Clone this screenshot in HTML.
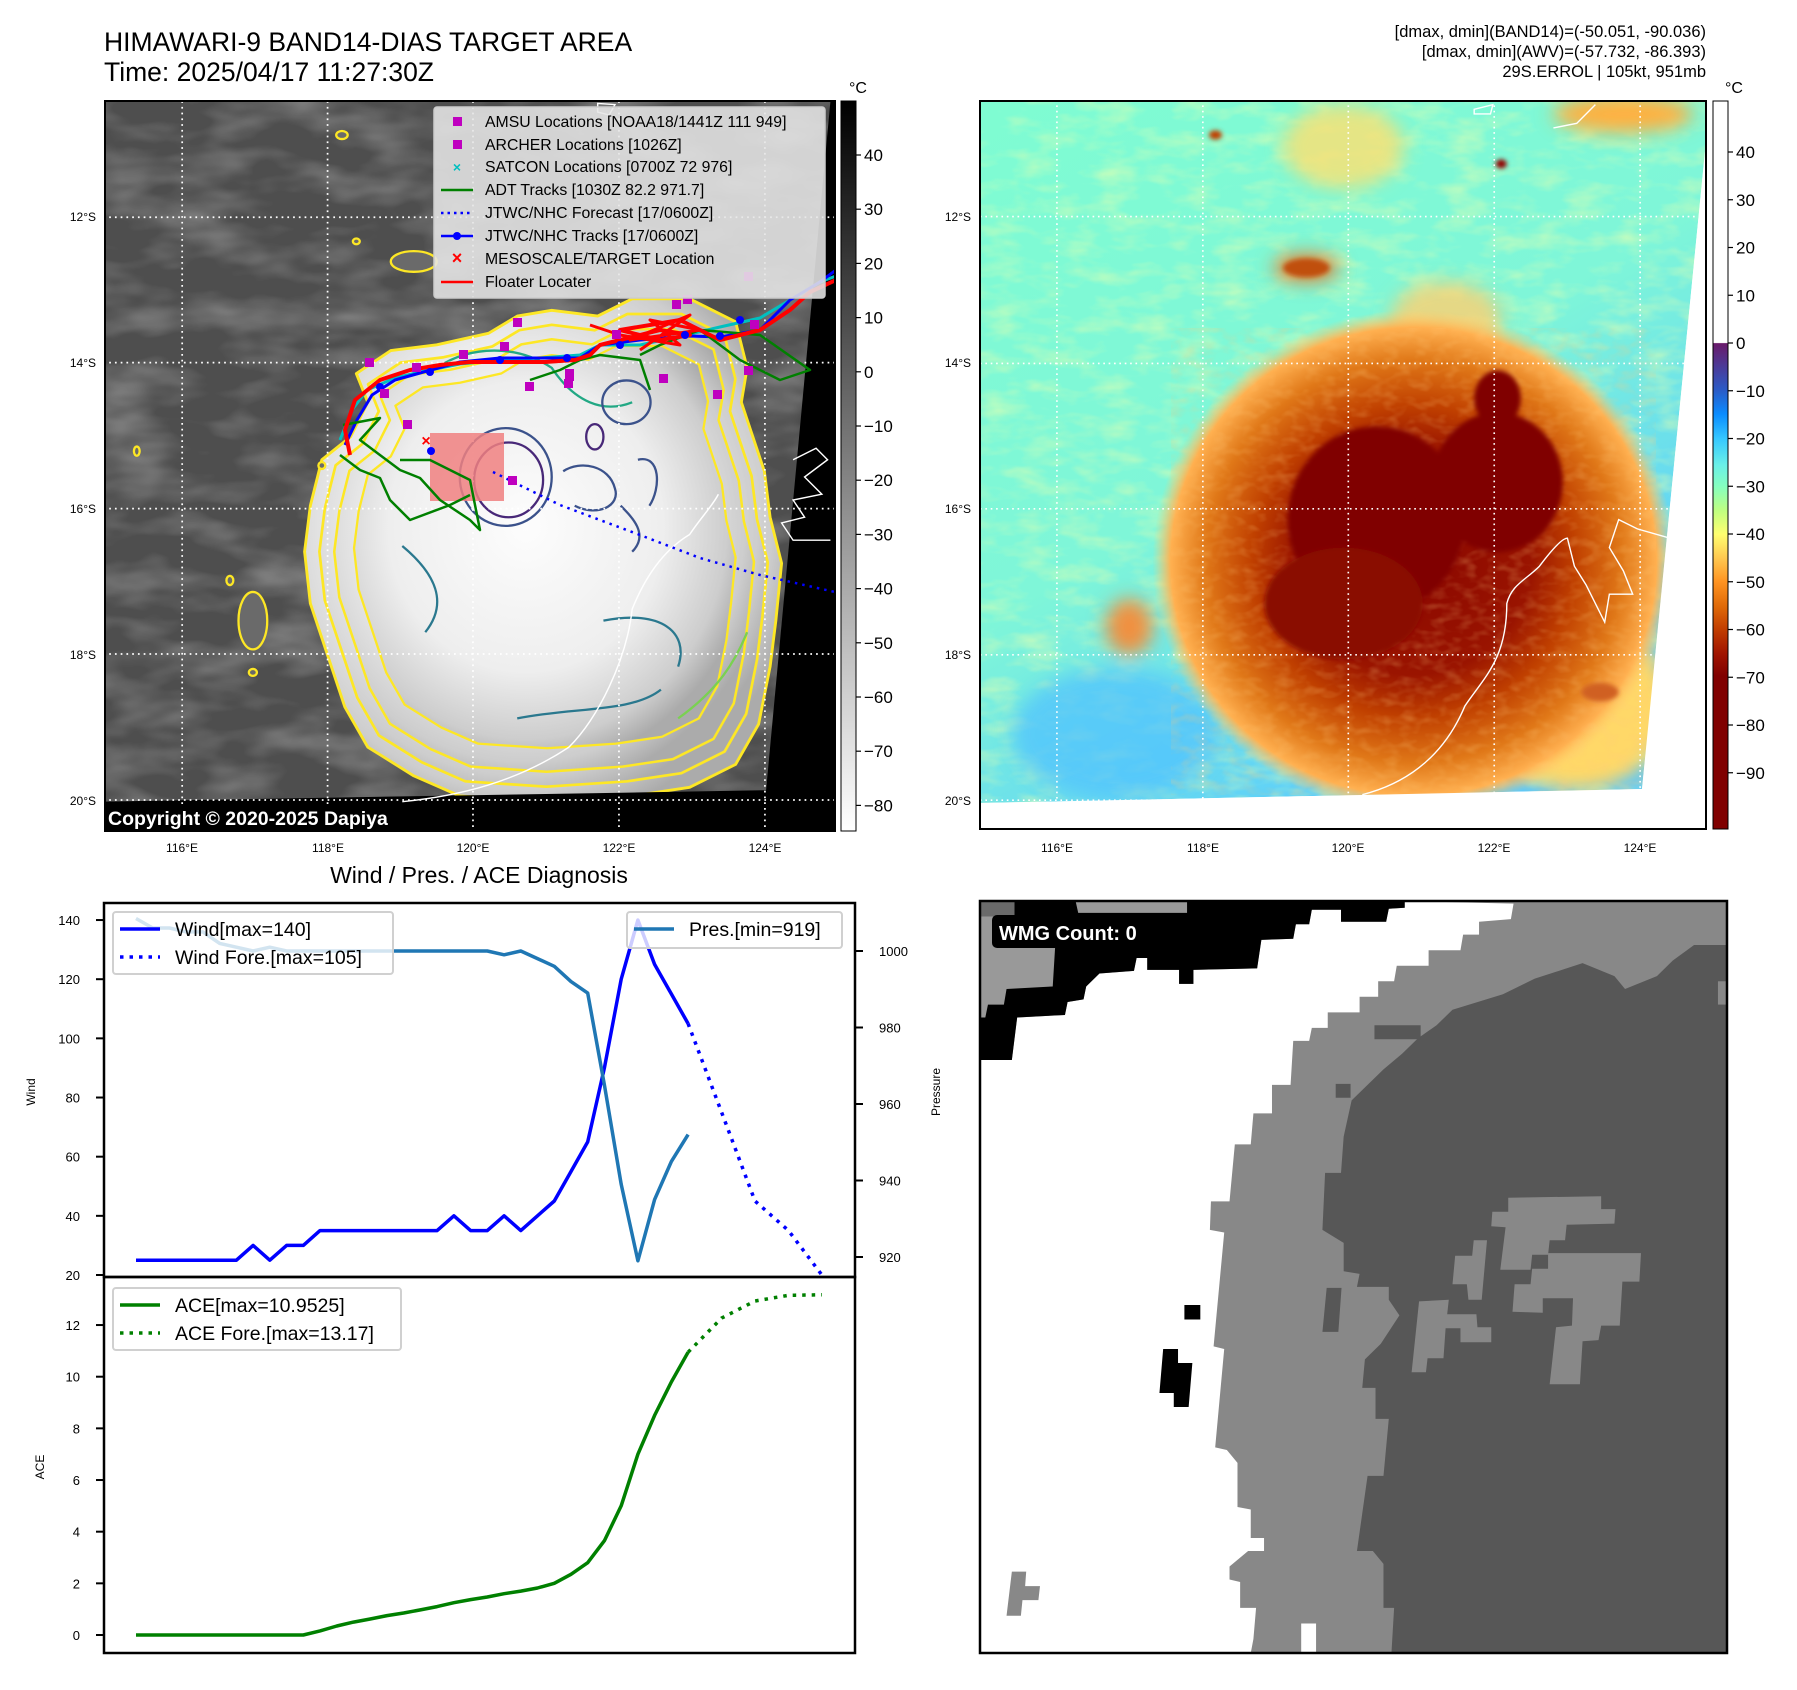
<!DOCTYPE html>
<html><head><meta charset="utf-8"><title>HIMAWARI-9 BAND14 target area</title>
<style>
html,body{margin:0;padding:0;background:#fff;}
body{width:1797px;height:1690px;position:relative;overflow:hidden;font-family:"Liberation Sans","DejaVu Sans",sans-serif;}
svg{position:absolute;left:0;top:0;}
</style></head><body>
<svg id="root" width="1797" height="1690" viewBox="0 0 1797 1690" xmlns="http://www.w3.org/2000/svg" font-family="Liberation Sans, DejaVu Sans, sans-serif">
<defs>
  <filter id="texG" x="0" y="0" width="100%" height="100%">
    <feTurbulence type="fractalNoise" baseFrequency="0.012 0.03" numOctaves="3" seed="4"/>
    <feColorMatrix type="matrix" values="0 0 0 0 1  0 0 0 0 1  0 0 0 0 1  0 0 0 1.1 -0.45"/>
  </filter>
  <filter id="texC" x="0" y="0" width="100%" height="100%">
    <feTurbulence type="fractalNoise" baseFrequency="0.012 0.028" numOctaves="3" seed="9"/>
    <feColorMatrix type="matrix" values="0 0 0 0 0.75  0 0 0 0 1  0 0 0 0 0.45  0 0 0 1.4 -0.6"/>
  </filter>
  <filter id="texO" x="0" y="0" width="100%" height="100%">
    <feTurbulence type="fractalNoise" baseFrequency="0.03 0.05" numOctaves="2" seed="3"/>
    <feColorMatrix type="matrix" values="0 0 0 0 1  0 0 0 0 0.6  0 0 0 0 0.2  0 0 0 1.6 -0.7"/>
  </filter>
  <filter id="blur10"><feGaussianBlur stdDeviation="10"/></filter>
  <filter id="blur5"><feGaussianBlur stdDeviation="5"/></filter>
  <filter id="blur20"><feGaussianBlur stdDeviation="20"/></filter>
  <radialGradient id="stormGray" cx="0.45" cy="0.45" r="0.6">
    <stop offset="0" stop-color="#fdfdfd"/><stop offset="0.6" stop-color="#eeeeee"/><stop offset="0.88" stop-color="#cdcdcd"/><stop offset="1" stop-color="#ababab"/>
  </radialGradient>
  <radialGradient id="stormColor" cx="0.5" cy="0.5" r="0.5">
    <stop offset="0" stop-color="#8a0600"/><stop offset="0.45" stop-color="#9a1400"/><stop offset="0.62" stop-color="#c04000"/>
    <stop offset="0.8" stop-color="#e07818"/><stop offset="0.93" stop-color="#ffb050"/><stop offset="1" stop-color="#ffd070" stop-opacity="0"/>
  </radialGradient>
  <linearGradient id="cbGray" x1="0" y1="0" x2="0" y2="1">
    <stop offset="0" stop-color="#000"/><stop offset="1" stop-color="#fff"/>
  </linearGradient>
  <linearGradient id="cbColor" x1="0" y1="0" x2="0" y2="1">
    <stop offset="0" stop-color="#fff"/><stop offset="0.332" stop-color="#fff"/>
    <stop offset="0.333" stop-color="#6a1a6a"/><stop offset="0.398" stop-color="#2a5cc8"/>
    <stop offset="0.43" stop-color="#0a8cff"/><stop offset="0.464" stop-color="#36c8ff"/>
    <stop offset="0.5" stop-color="#6af0e8"/><stop offset="0.53" stop-color="#86ffbe"/>
    <stop offset="0.563" stop-color="#c0ff80"/><stop offset="0.595" stop-color="#ffff70"/>
    <stop offset="0.628" stop-color="#ffc850"/><stop offset="0.66" stop-color="#ff9422"/>
    <stop offset="0.694" stop-color="#e06a08"/><stop offset="0.727" stop-color="#c03c00"/>
    <stop offset="0.76" stop-color="#a01400"/><stop offset="0.79" stop-color="#800000"/>
    <stop offset="1" stop-color="#800000"/>
  </linearGradient>
  <linearGradient id="bgRight" x1="0" y1="0" x2="0.6" y2="1">
    <stop offset="0" stop-color="#7ffcd2"/><stop offset="0.55" stop-color="#7ff6d8"/><stop offset="1" stop-color="#58c8ff"/>
  </linearGradient>
  <clipPath id="clipL"><rect x="105" y="101" width="730" height="730"/></clipPath>
  <clipPath id="clipR"><rect x="980" y="101" width="726" height="728"/></clipPath>
  <clipPath id="clipBR"><rect x="980" y="901" width="747" height="752"/></clipPath>
</defs>

<!-- Titles -->
<text x="104" y="51" font-size="26.5" fill="#000">HIMAWARI-9 BAND14-DIAS TARGET AREA</text>
<text x="104" y="81" font-size="26.5" fill="#000">Time: 2025/04/17 11:27:30Z</text>
<g font-size="16.5" text-anchor="end" fill="#000">
  <text x="1706" y="37">[dmax, dmin](BAND14)=(-50.051, -90.036)</text>
  <text x="1706" y="57">[dmax, dmin](AWV)=(-57.732, -86.393)</text>
  <text x="1706" y="77">29S.ERROL | 105kt, 951mb</text>
</g>

<!-- ============ LEFT MAP ============ -->
<g clip-path="url(#clipL)">
  <rect x="105" y="101" width="730" height="730" fill="#4e4e4e"/>
  <rect x="105" y="101" width="730" height="730" filter="url(#texG)" opacity="0.55"/>
  <g transform="scale(0.5747)">
    <path id="outerC" d="M540,880 L560,800 610,760 640,700 620,650 680,610 760,600 850,580 900,550 960,540 1040,550 1100,520 1200,520 1280,560 1300,640 1290,700 1310,760 1330,820 1340,900 1360,980 1350,1080 1340,1160 1320,1260 1280,1330 1200,1370 1100,1385 950,1395 800,1385 720,1350 640,1300 600,1230 570,1140 540,1050 530,960 Z" fill="url(#stormGray)" stroke="#fde725" stroke-width="5" stroke-linejoin="round"/>
    <g fill="none" stroke-linejoin="round" stroke-width="4">
      <use href="#outerC" transform="translate(960 960) scale(0.94) translate(-960 -960)" fill="none" stroke="#7ad151"/>
      <use href="#outerC" transform="translate(960 960) scale(0.88) translate(-960 -960)" fill="none" stroke="#22a884"/>
      <use href="#outerC" transform="translate(960 930) scale(0.80) translate(-960 -930)" fill="none" stroke="#2a788e"/>
      <path d="M760,640 C820,600 900,600 960,640 C1000,700 1050,720 1100,700" stroke="#22a884"/>
      <ellipse cx="880" cy="830" rx="80" ry="85" stroke="#3b528b"/>
      <ellipse cx="885" cy="835" rx="60" ry="65" stroke="#482878"/>
      <ellipse cx="1090" cy="700" rx="42" ry="38" stroke="#3b528b"/>
      <ellipse cx="1035" cy="760" rx="15" ry="22" stroke="#482878"/>
      <path d="M980,820 C1010,800 1060,810 1070,850 C1080,880 1040,900 1000,880" stroke="#3b528b"/>
      <path d="M1110,800 C1150,790 1150,850 1130,880 M1080,880 C1100,900 1130,930 1100,960" stroke="#3b528b"/>
      <path d="M700,950 C760,1000 780,1050 740,1100 M1050,1080 C1150,1060 1200,1100 1180,1160 M900,1250 C1000,1230 1100,1240 1150,1200" stroke="#2a788e"/>
      <path d="M1180,1250 C1250,1200 1280,1150 1300,1100" stroke="#7ad151"/>
    </g>
    <g fill="#6a6a6a" stroke="#fde725" stroke-width="4">
      <ellipse cx="720" cy="455" rx="40" ry="18"/>
      <ellipse cx="440" cy="1080" rx="25" ry="50"/>
      <ellipse cx="595" cy="235" rx="10" ry="7"/>
      <ellipse cx="620" cy="420" rx="6" ry="5"/>
      <ellipse cx="238" cy="785" rx="5" ry="8"/>
      <ellipse cx="560" cy="810" rx="6" ry="6"/>
      <ellipse cx="400" cy="1010" rx="6" ry="8"/>
      <ellipse cx="440" cy="1170" rx="7" ry="6"/>
    </g>
    <path d="M1445,176 L1460,176 1460,1450 180,1450 180,1395 340,1392 1333,1375 Z" fill="#000"/>
    <g fill="none" stroke="#fff" stroke-width="2.5">
      <path d="M700,1395 C800,1385 900,1360 990,1300 C1040,1250 1090,1150 1100,1060 C1120,1010 1150,960 1200,930 C1220,900 1240,880 1250,860"/>
      <path d="M1380,800 L1420,780 1440,800 1400,830 1430,860 1380,870 1400,900 1360,910 1380,940 1445,940"/>
      <path d="M1040,180 L1070,182 1060,200 1040,195 Z"/>
    </g>
    <g stroke="#fff" stroke-width="3" stroke-dasharray="3,7" fill="none">
      <path d="M317,176V1445 M570,176V1445 M823,176V1445 M1077,176V1445 M1331,176V1445"/>
      <path d="M180,378H1452 M180,631H1452 M180,885H1452 M180,1138H1452 M180,1392H1452"/>
    </g>
  </g>
  <rect x="430" y="433" width="74" height="68" fill="#f08080" opacity="0.85"/>
  <polyline points="493,472 560,505 640,535 700,558 760,575 835,592" fill="none" stroke="#0000ff" stroke-width="2.5" stroke-dasharray="2.5,5"/>
  <g fill="none" stroke-linejoin="round">
    <polyline points="340,440 352,410 367,390 395,378 420,372 460,364 500,360 540,358 580,355 600,345 640,345 690,334 720,327 760,318 790,300 820,282 836,276" stroke="#00c0c0" stroke-width="3"/>
    <polyline points="345,445 357,420 372,395 395,380 420,373 460,362 500,358 540,358 580,358 600,345 640,340 690,336 720,337 760,330 790,300 820,282 836,270" stroke="#0000ff" stroke-width="3"/>
    <g stroke="#008000" stroke-width="2.5">
      <polyline points="343,425 380,418 360,440 400,470 420,478 440,500 470,520 480,530 470,480 430,460 400,460"/>
      <polyline points="340,455 360,470 380,478 390,500 410,520 450,505 470,495"/>
      <polyline points="530,380 560,370 580,360 600,355 640,360 650,390"/>
      <polyline points="640,355 660,345 700,330 740,360 780,380 810,370 760,335 700,330"/>
    </g>
    <polyline points="350,455 345,430 355,400 380,380 410,370 440,365 470,362 510,362 545,362 575,360 590,355 600,345 620,340 660,330 690,335 660,340 620,330 680,320 720,340 760,330 790,310 810,292 836,280" stroke="#ff0000" stroke-width="4"/>
    <polyline points="590,325 620,335 680,345 650,320 700,330 630,340 690,315 640,350" stroke="#ff0000" stroke-width="3"/>
  </g>
  <g fill="#0000ff">
    <circle cx="380" cy="387" r="4"/><circle cx="430" cy="372" r="4"/><circle cx="500" cy="360" r="4"/><circle cx="567" cy="358" r="4"/><circle cx="620" cy="345" r="4"/><circle cx="685" cy="335" r="4"/><circle cx="720" cy="336" r="4"/><circle cx="740" cy="320" r="4"/><circle cx="431" cy="451" r="4"/>
  </g>
  <g fill="#bf00bf">
    <rect x="365" y="358" width="9" height="9"/><rect x="412" y="363" width="9" height="9"/><rect x="459" y="350" width="9" height="9"/><rect x="500" y="342" width="9" height="9"/><rect x="513" y="318" width="9" height="9"/>
    <rect x="525" y="382" width="9" height="9"/><rect x="564" y="379" width="9" height="9"/><rect x="612" y="330" width="9" height="9"/><rect x="659" y="374" width="9" height="9"/><rect x="713" y="390" width="9" height="9"/>
    <rect x="744" y="366" width="9" height="9"/><rect x="744" y="272" width="9" height="9"/><rect x="403" y="420" width="9" height="9"/><rect x="380" y="389" width="9" height="9"/><rect x="508" y="476" width="9" height="9"/>
    <rect x="672" y="300" width="9" height="9"/><rect x="750" y="320" width="9" height="9"/><rect x="683" y="295" width="9" height="9"/><rect x="565" y="369" width="9" height="12"/>
  </g>
  <text x="426" y="446" font-size="16" font-weight="bold" fill="#ff0000" text-anchor="middle">×</text>
  <rect x="104" y="805" width="310" height="26" rx="3" fill="#000"/>
  <text x="108" y="825" font-size="19.5" font-weight="bold" fill="#fff">Copyright © 2020-2025 Dapiya</text>
</g>
<rect x="105" y="101" width="730" height="730" fill="none" stroke="#000" stroke-width="2"/>

<g font-size="15.8">
  <rect x="434" y="107" width="391" height="191" rx="3" fill="#e6e6e6" fill-opacity="0.88" stroke="#cccccc" stroke-width="1.5"/>
  <rect x="453" y="117" width="9" height="9" fill="#bf00bf"/><text x="485" y="127">AMSU Locations [NOAA18/1441Z 111 949]</text>
  <rect x="453" y="140" width="9" height="9" fill="#bf00bf"/><text x="485" y="150">ARCHER Locations [1026Z]</text>
  <text x="457" y="172" fill="#00bfbf" font-size="14" text-anchor="middle" font-weight="bold">×</text><text x="485" y="172">SATCON Locations [0700Z 72 976]</text>
  <line x1="441" y1="190" x2="473" y2="190" stroke="#008000" stroke-width="2.5"/><text x="485" y="195">ADT Tracks [1030Z 82.2 971.7]</text>
  <line x1="441" y1="213" x2="473" y2="213" stroke="#0000ff" stroke-width="2.5" stroke-dasharray="2.5,4"/><text x="485" y="218">JTWC/NHC Forecast [17/0600Z]</text>
  <line x1="441" y1="236" x2="473" y2="236" stroke="#0000ff" stroke-width="2.5"/><circle cx="457" cy="236" r="4" fill="#0000ff"/><text x="485" y="241">JTWC/NHC Tracks [17/0600Z]</text>
  <text x="457" y="264" fill="#ff0000" font-size="18" font-weight="bold" text-anchor="middle">×</text><text x="485" y="264">MESOSCALE/TARGET Location</text>
  <line x1="441" y1="282" x2="473" y2="282" stroke="#ff0000" stroke-width="2.5"/><text x="485" y="287">Floater Locater</text>
</g>

<g font-size="12" fill="#000" text-anchor="end">
  <text x="96" y="221">12°S</text><text x="96" y="367">14°S</text><text x="96" y="513">16°S</text><text x="96" y="659">18°S</text><text x="96" y="805">20°S</text>
</g>
<g font-size="12" fill="#000" text-anchor="middle">
  <text x="182" y="852">116°E</text><text x="328" y="852">118°E</text><text x="473" y="852">120°E</text><text x="619" y="852">122°E</text><text x="765" y="852">124°E</text>
</g>
<rect x="841" y="101" width="15" height="730" fill="url(#cbGray)" stroke="#000" stroke-width="1"/>
<text x="858" y="93" font-size="16" text-anchor="middle">°C</text>
<g id="cbLticks" font-size="17" fill="#000"></g>

<!-- ============ RIGHT MAP ============ -->
<g clip-path="url(#clipR)">
  <rect x="980" y="101" width="726" height="728" fill="#fff"/>
  <g transform="translate(980 100) scale(0.4662)">
    <path d="M0,0 L1566,0 1420,1478 0,1508 Z" fill="url(#bgRight)"/>
    <path d="M0,0 L1566,0 1420,1478 0,1508 Z" filter="url(#texC)" opacity="0.85"/>
    <g filter="url(#blur20)">
      <ellipse cx="780" cy="100" rx="130" ry="90" fill="#ffe070" opacity="0.8"/>
      <ellipse cx="1380" cy="30" rx="150" ry="40" fill="#ffb040"/>
      <ellipse cx="700" cy="360" rx="70" ry="30" fill="#e88030"/>
      <ellipse cx="1000" cy="470" rx="120" ry="80" fill="#ffd070" opacity="0.8"/>
      <ellipse cx="1280" cy="1300" rx="200" ry="180" fill="#ffd868"/>
      <ellipse cx="320" cy="1130" rx="50" ry="60" fill="#f09040"/>
      <ellipse cx="290" cy="1360" rx="220" ry="140" fill="#50c0ff" opacity="0.7"/>
    </g>
    <ellipse cx="930" cy="990" rx="560" ry="540" fill="url(#stormColor)"/>
    <ellipse cx="930" cy="990" rx="520" ry="500" filter="url(#texO)" opacity="0.35" clip-path="none"/>
    <g filter="url(#blur5)">
      <ellipse cx="850" cy="900" rx="190" ry="200" fill="#800000"/>
      <ellipse cx="1110" cy="820" rx="140" ry="150" fill="#800000"/>
      <ellipse cx="1110" cy="640" rx="50" ry="60" fill="#800000"/>
      <ellipse cx="780" cy="1080" rx="170" ry="120" fill="#8a0800"/>
      <ellipse cx="1330" cy="1270" rx="40" ry="20" fill="#d06020"/>
      <ellipse cx="1118" cy="137" rx="12" ry="10" fill="#900000"/>
      <ellipse cx="505" cy="75" rx="14" ry="10" fill="#c04000"/>
      <ellipse cx="700" cy="360" rx="50" ry="20" fill="#c05010"/>
    </g>
    <path d="M1566,0 L1566,1566 0,1566 0,1508 1420,1478 Z" fill="#fff"/>
    <g fill="none" stroke="#fff" stroke-width="3">
      <path d="M820,1490 C900,1470 990,1420 1040,1300 C1080,1240 1130,1200 1130,1080 C1140,1040 1170,1030 1200,1000 C1230,960 1250,940 1260,940 L1275,1000 1300,1040 1340,1120 1350,1060 1400,1060 1380,1010 1350,960 1370,900 1410,920 1480,940"/>
      <path d="M1230,60 L1280,50 1320,10 M1060,20 L1100,10 1095,30 1060,30 Z"/>
    </g>
    <g stroke="#fff" stroke-width="3.5" stroke-dasharray="3.5,8" fill="none">
      <path d="M165,0V1510 M478,0V1510 M790,0V1510 M1103,0V1510 M1416,0V1510"/>
      <path d="M0,250H1540 M0,565H1510 M0,877H1480 M0,1190H1450 M0,1502H1420"/>
    </g>
  </g>
</g>
<rect x="980" y="101" width="726" height="728" fill="none" stroke="#000" stroke-width="2"/>
<g font-size="12" fill="#000" text-anchor="end">
  <text x="971" y="221">12°S</text><text x="971" y="367">14°S</text><text x="971" y="513">16°S</text><text x="971" y="659">18°S</text><text x="971" y="805">20°S</text>
</g>
<g font-size="12" fill="#000" text-anchor="middle">
  <text x="1057" y="852">116°E</text><text x="1203" y="852">118°E</text><text x="1348" y="852">120°E</text><text x="1494" y="852">122°E</text><text x="1640" y="852">124°E</text>
</g>
<rect x="1713" y="101" width="15" height="728" fill="url(#cbColor)" stroke="#000" stroke-width="1"/>
<text x="1734" y="93" font-size="16" text-anchor="middle">°C</text>
<g id="cbRticks" font-size="17" fill="#000"></g>

<!-- ============ WIND/PRES/ACE CHART ============ -->
<text x="479" y="883" font-size="23" text-anchor="middle">Wind / Pres. / ACE Diagnosis</text>
<g id="chart"></g>

<!-- ============ WMG PANEL ============ -->
<g clip-path="url(#clipBR)">
  <g transform="translate(980 901) scale(0.5309 0.5179) translate(-35 -45)">
    <rect x="35" y="45" width="1407" height="1452" fill="#575757"/>
    <path d="M1440,45 L1440,130 1380,130 1340,160 1310,190 1250,215 1230,190 1170,165 1080,195 1020,225 925,255 895,285 860,310 830,340 795,370 765,400 735,430 720,500 715,570 685,570 680,680 720,705 720,760 750,765 745,790 805,790 805,815 825,845 790,900 760,930 755,985 780,985 780,1045 805,1045 795,1155 765,1155 745,1300 775,1300 795,1325 795,1410 815,1410 810,1497 35,1497 35,45 Z" fill="#888"/>
    <g fill="#575757">
      <path d="M778,285H865V312H778Z M705,398H733V425H705Z M688,792H716L710,877H680Z"/>
    </g>
    <g fill="#888">
      <path d="M1030,618 L1205,615 1205,640 1232,640 1230,668 1140,670 1137,700 1108,700 1105,728 1075,728 1072,757 1015,757 1025,675 998,673 1000,645 1030,645 Z"/>
      <path d="M1105,725 L1280,725 1277,780 1245,780 1240,865 1205,865 1200,893 1170,895 1165,978 1108,978 1120,868 1150,865 1152,812 1095,812 1095,840 1038,838 1042,785 1072,785 1075,755 1105,755 Z"/>
      <path d="M930,730 L962,730 965,700 990,700 980,815 955,815 952,785 925,785 Z"/>
      <path d="M862,818 L918,815 915,843 970,843 972,868 998,868 998,897 940,897 940,870 912,870 908,928 878,928 875,955 848,955 Z"/>
      <path d="M1425,200H1442V245H1425Z"/>
    </g>
    <path d="M835,45 L1040,50 1035,80 975,85 975,110 945,110 940,140 880,140 880,170 820,170 815,200 785,200 785,230 750,230 750,260 690,260 690,290 660,290 655,315 625,315 620,400 585,400 585,455 550,455 545,515 515,515 505,625 470,625 468,680 495,685 475,905 495,910 478,1100 500,1105 520,1130 520,1215 545,1220 545,1275 570,1275 570,1300 540,1300 505,1330 505,1355 525,1360 525,1410 555,1410 550,1470 545,1497 35,1497 35,352 95,352 105,270 195,265 200,240 230,235 235,210 260,185 325,180 330,155 350,155 350,178 410,178 410,205 437,205 437,178 557,175 565,120 625,118 630,90 655,90 660,62 715,62 715,85 800,85 805,60 835,58 Z" fill="#fff"/>
    <path d="M640,1440H668V1497H640Z" fill="#fff"/>
    <path d="M35,352 L95,352 105,270 195,265 200,240 230,235 235,210 260,185 325,180 330,155 350,155 350,178 410,178 410,205 437,205 437,178 557,175 565,120 625,118 630,90 655,90 660,62 715,62 715,85 800,85 805,60 835,58 835,45 35,45 Z" fill="#000"/>
    <path d="M35,45 L215,45 220,68 425,68 425,45 100,45 Z" fill="#999"/>
    <path d="M35,45 L100,45 100,75 180,75 172,210 85,215 80,245 50,245 45,270 35,270 Z" fill="#999"/>
    <path d="M35,45H100V75H35Z" fill="#6a6a6a"/>
    <g fill="#000">
      <path d="M420,825H450V853H420Z"/>
      <path d="M380,910 L408,910 408,937 435,937 428,1022 400,1022 400,995 373,995 Z"/>
    </g>
    <path d="M95,1340 L122,1340 120,1368 148,1368 145,1395 115,1395 112,1425 85,1425 Z" fill="#888"/>
  </g>
  <rect x="992" y="915" width="178" height="33" rx="5" fill="#000"/>
  <text x="999" y="940" font-size="20" font-weight="bold" fill="#fff">WMG Count: 0</text>
</g>
<rect x="980" y="901" width="747" height="752" fill="none" stroke="#000" stroke-width="2.5"/>
</svg>

<script>
// ---- chart data ----
const obsIdx = [0,1,2,3,4,5,6,7,8,9,10,11,12,13,14,15,16,17,18,19,20,21,22,23,24,25,26,27,28,29,30,31,32,33];
const windObs = [25,25,25,25,25,25,25,30,25,30,30,35,35,35,35,35,35,35,35,40,35,35,40,35,40,45,55,65,90,120,140,125,115,105];
const fcstIdx = [33,35,37,39,41];
const windFcst = [105,75,45,35,20];
const presObs = [1008.5,1006,1006,1005,1005,1002,1001,1000,1001,1000,1000,1000,1000,1000,1000,1000,1000,1000,1000,1000,1000,1000,999,1000,998,996,992,989,965,939,919,935,945,952];
const aceObs = [0,0,0,0,0,0,0,0,0,0,0,0.16,0.35,0.5,0.62,0.75,0.85,0.97,1.1,1.25,1.37,1.47,1.6,1.7,1.82,2.0,2.35,2.8,3.65,5.0,7.0,8.5,9.8,10.95];
const aceFcst = [10.95,12.27,12.93,13.15,13.17];
const windTicks = [20,40,60,80,100,120,140];
const presTicks = [920,940,960,980,1000];
const aceTicks = [0,2,4,6,8,10,12];
const grayCbTicks = [40,30,20,10,0,-10,-20,-30,-40,-50,-60,-70,-80];
const colorCbTicks = [40,30,20,10,0,-10,-20,-30,-40,-50,-60,-70,-80,-90];

const NS = 'http://www.w3.org/2000/svg';
function mk(tag, attrs, parent){ const e=document.createElementNS(NS,tag); for(const k in attrs) e.setAttribute(k,attrs[k]); parent.appendChild(e); return e; }

const xI = i => 136 + i*16.73;
const yW = v => 1275 - (v-20)*2.958;
const yP = p => 951 + (1000-p)*3.825;
const yA = a => 1635 - a*25.83;
const yCbL = t => 155 + (40-t)*5.42;
const yCbR = t => 152 + (40-t)*4.775;

const chart = document.getElementById('chart');
let r1 = mk('rect',{x:104,y:903,width:751,height:374,fill:'none',stroke:'#000','stroke-width':2.5},chart);


let r2 = mk('rect',{x:104,y:1277,width:751,height:376,fill:'none',stroke:'#000','stroke-width':2.5},chart);



function pts(idx, vals, yf){ return idx.map((i,k)=>xI(i).toFixed(1)+','+yf(vals[k]).toFixed(1)).join(' '); }

windTicks.forEach(t=>{
  const y=yW(t);
  mk('line',{x1:96,y1:y,x2:104,y2:y,stroke:'#000','stroke-width':2},chart);
  const tx=mk('text',{x:80,y:y+5,'font-size':13,'text-anchor':'end'},chart); tx.textContent=t;
  
  
});
presTicks.forEach(t=>{
  const y=yP(t);
  mk('line',{x1:855,y1:y,x2:863,y2:y,stroke:'#000','stroke-width':2},chart);
  const tx=mk('text',{x:879,y:y+5,'font-size':13},chart); tx.textContent=t;
  
  
});
aceTicks.forEach(t=>{
  const y=yA(t);
  mk('line',{x1:96,y1:y,x2:104,y2:y,stroke:'#000','stroke-width':2},chart);
  const tx=mk('text',{x:80,y:y+5,'font-size':13,'text-anchor':'end'},chart); tx.textContent=t;
  
  
});
let yl1=mk('text',{x:0,y:0,'font-size':12,'text-anchor':'middle',transform:'translate(35 1092) rotate(-90)'},chart); yl1.textContent='Wind';


let yl2=mk('text',{x:0,y:0,'font-size':12,'text-anchor':'middle',transform:'translate(940 1092) rotate(-90)'},chart); yl2.textContent='Pressure';


let yl3=mk('text',{x:0,y:0,'font-size':12,'text-anchor':'middle',transform:'translate(44 1467) rotate(-90)'},chart); yl3.textContent='ACE';



let wl=mk('polyline',{points:pts(obsIdx,windObs,yW),fill:'none',stroke:'#0000ff','stroke-width':3.5,'stroke-linejoin':'round'},chart);


let wf=mk('polyline',{points:pts(fcstIdx,windFcst,yW),fill:'none',stroke:'#0000ff','stroke-width':3.5,'stroke-dasharray':'3.5,6'},chart);


let pl=mk('polyline',{points:pts(obsIdx,presObs,yP),fill:'none',stroke:'#1f77b4','stroke-width':3.5,'stroke-linejoin':'round'},chart);


let al=mk('polyline',{points:pts(obsIdx,aceObs,yA),fill:'none',stroke:'#008000','stroke-width':3.5,'stroke-linejoin':'round'},chart);


let af=mk('polyline',{points:pts(fcstIdx,aceFcst,yA),fill:'none',stroke:'#008000','stroke-width':3.5,'stroke-dasharray':'3.5,6'},chart);



function legendBox(x,y,w,h,name){
  const g=mk('g',{},chart);
  
  
  mk('rect',{x:x,y:y,width:w,height:h,rx:3,fill:'#fff','fill-opacity':0.8,stroke:'#d0d0d0','stroke-width':2},g);
  return g;
}
let lg1=legendBox(113,912,280,62,'wind-legend');
mk('line',{x1:120,y1:929,x2:160,y2:929,stroke:'#0000ff','stroke-width':3.5},lg1);
let t1=mk('text',{x:175,y:936,'font-size':19.5},lg1); t1.textContent='Wind[max=140]';
mk('line',{x1:120,y1:957,x2:160,y2:957,stroke:'#0000ff','stroke-width':3.5,'stroke-dasharray':'3.5,6'},lg1);
let t2=mk('text',{x:175,y:964,'font-size':19.5},lg1); t2.textContent='Wind Fore.[max=105]';
let lg2=legendBox(627,912,215,36,'pressure-legend');
mk('line',{x1:634,y1:929,x2:674,y2:929,stroke:'#1f77b4','stroke-width':3.5},lg2);
let t3=mk('text',{x:689,y:936,'font-size':19.5},lg2); t3.textContent='Pres.[min=919]';
let lg3=legendBox(113,1288,288,62,'ace-legend');
mk('line',{x1:120,y1:1305,x2:160,y2:1305,stroke:'#008000','stroke-width':3.5},lg3);
let t4=mk('text',{x:175,y:1312,'font-size':19.5},lg3); t4.textContent='ACE[max=10.9525]';
mk('line',{x1:120,y1:1333,x2:160,y2:1333,stroke:'#008000','stroke-width':3.5,'stroke-dasharray':'3.5,6'},lg3);
let t5=mk('text',{x:175,y:1340,'font-size':19.5},lg3); t5.textContent='ACE Fore.[max=13.17]';

const gL=document.getElementById('cbLticks');
grayCbTicks.forEach(t=>{
  const y=yCbL(t);
  mk('line',{x1:856,y1:y,x2:861,y2:y,stroke:'#000','stroke-width':1.2},gL);
  const tx=mk('text',{x:864,y:y+6},gL); tx.textContent=(t<0?'\u2212'+(-t):t);
  
  
});
const gR=document.getElementById('cbRticks');
colorCbTicks.forEach(t=>{
  const y=yCbR(t);
  mk('line',{x1:1728,y1:y,x2:1733,y2:y,stroke:'#000','stroke-width':1.2},gR);
  const tx=mk('text',{x:1736,y:y+6},gR); tx.textContent=(t<0?'\u2212'+(-t):t);
  
  
});
</script>
</body></html>
